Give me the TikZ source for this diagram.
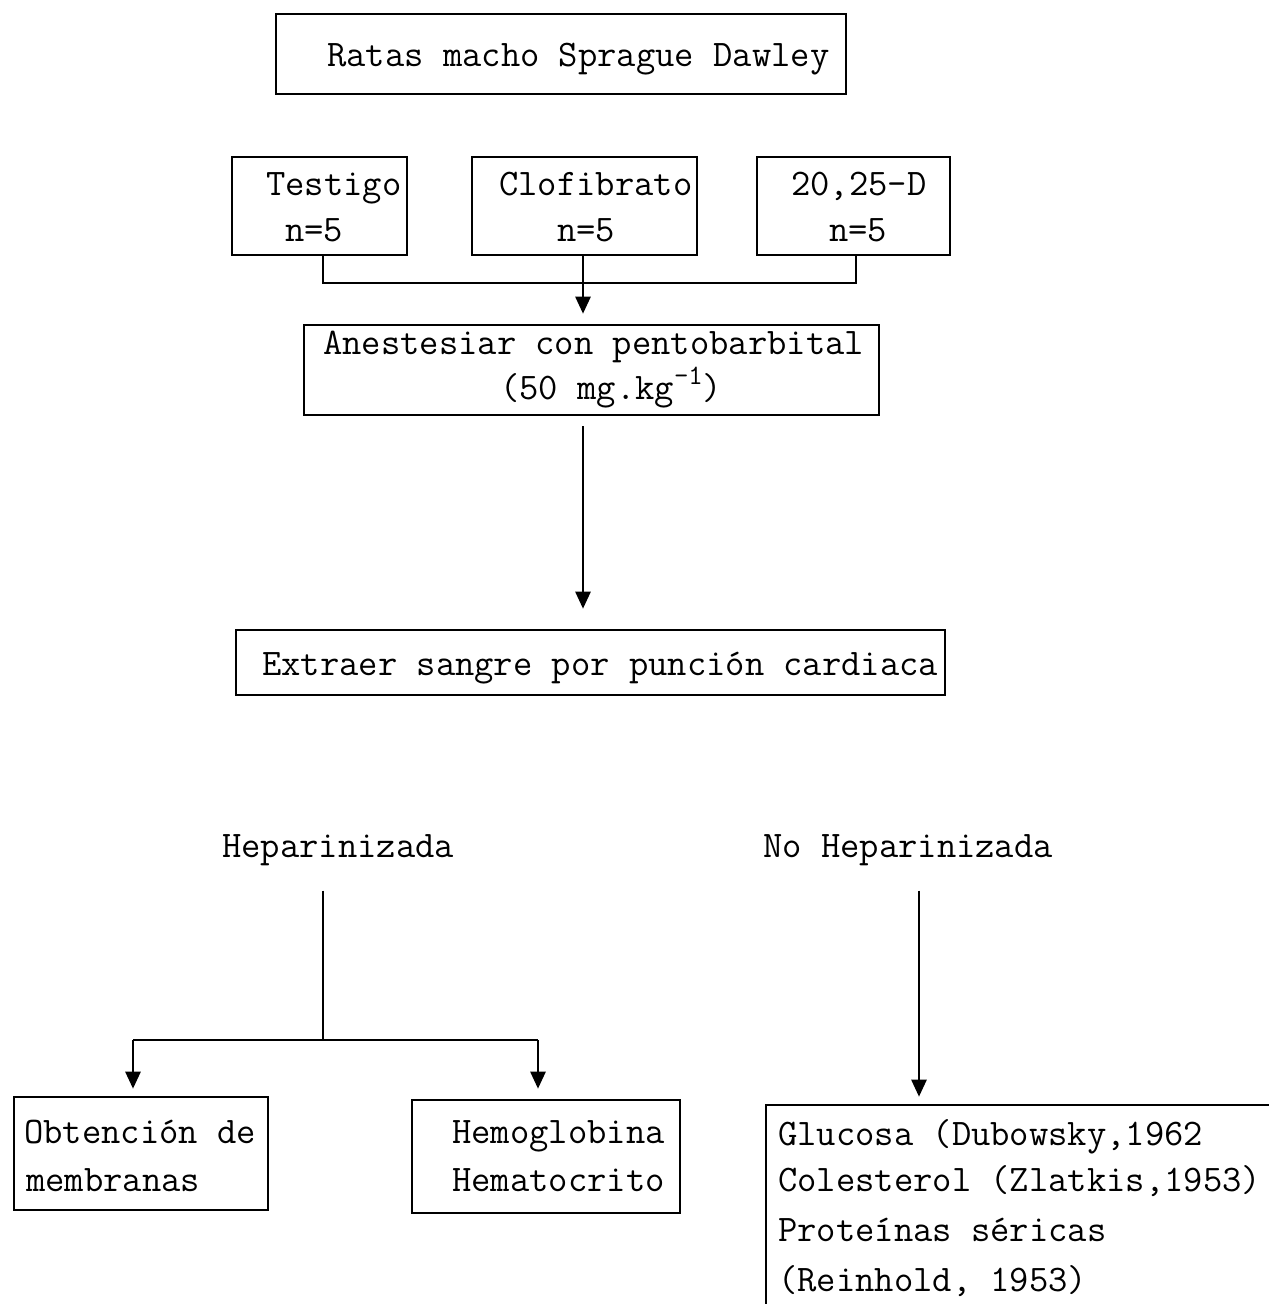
\documentclass[tikz,border=0pt]{standalone}
\usetikzlibrary{arrows.meta,calc}
\begin{document}
\begin{tikzpicture}[x=1pt,y=-1pt,
  box/.style={draw, line width=2.6pt, rectangle, inner sep=0pt},
  txt/.style={anchor=base west, inner sep=0pt, font=\ttfamily\fontsize{37.5}{40}\selectfont},
  arr/.style={-{Triangle[width=15pt,length=17pt]}, line width=2.6pt},
  conn/.style={line width=2.6pt}]
\useasboundingbox (0,0) rectangle (1269,1304);
% boxes
\node[box, minimum width=570pt, minimum height=80pt] (top) at (561,54) {};
\node[box, minimum width=175pt, minimum height=98pt] (testigo) at (319.5,206) {};
\node[box, minimum width=225pt, minimum height=98pt] (clof) at (584.5,206) {};
\node[box, minimum width=193pt, minimum height=98pt] (dd) at (853.5,206) {};
\node[box, minimum width=575pt, minimum height=90pt] (anest) at (591.5,370) {};
\node[box, minimum width=709pt, minimum height=65pt] (extr) at (590.5,662.5) {};
\node[box, minimum width=254pt, minimum height=113pt] (obt) at (141,1153.5) {};
\node[box, minimum width=268pt, minimum height=113pt] (hemo) at (546,1156.5) {};
\node[box, minimum width=534pt, minimum height=235pt] (fin) at (1033,1222.5) {};
% texts
\node[txt] (t1) at (327,66) {Ratas macho Sprague Dawley};
\node[txt] (t2) at (266,195) {Testigo};
\node[txt] (t3) at (285,241) {n=5};
\node[txt] (t4) at (499,195) {Clofibrato};
\node[txt] (t5) at (557,241) {n=5};
\node[txt] (t6) at (791,195) {20,25-D};
\node[txt] (t7) at (829,241) {n=5};
\node[txt] (t8) at (323,354) {Anestesiar con pentobarbital};
\node[txt] (t9) at (500,399) {(50 mg.kg\raisebox{15pt}{\fontsize{28}{28}\selectfont-1})};
\node[txt] (t10) at (262,675) {Extraer sangre por punción cardiaca};
\node[txt] (hep) at (222,857) {Heparinizada};
\node[txt] (nohep) at (763,857) {No Heparinizada};
\node[txt] (t11) at (24,1143) {Obtención de};
\node[txt] (t12) at (26,1191) {membranas};
\node[txt] (t13) at (452,1143) {Hemoglobina};
\node[txt] (t14) at (452,1191) {Hematocrito};
\node[txt] (t15) at (778,1145) {Glucosa (Dubowsky,1962};
\node[txt] (t16) at (778,1191) {Colesterol (Zlatkis,1953)};
\node[txt] (t17) at (778,1241) {Proteínas séricas};
\node[txt] (t18) at (778,1291) {(Reinhold, 1953)};
% connectors
\coordinate (bl) at (323,283);
\coordinate (br) at (856,283);
\coordinate (split) at (323,1040);
\coordinate (sl) at (133,1040);
\coordinate (sr) at (538,1040);
\draw[conn] (testigo.south -| bl) -- (bl) -- (br) -- (dd.south -| br);
\draw[arr] (clof.south -| 583,0) -- ($(anest.north -| 583,0)+(0,-10)$);
\draw[arr] ($(anest.south -| 583,0)+(0,10)$) -- ($(extr.north -| 583,0)+(0,-20)$);
\draw[conn] ($(hep.south -| split)+(0,25)$) -- (split);
\draw[conn] (sl) -- (sr);
\draw[arr] (sl) -- ($(obt.north -| sl)+(0,-7)$);
\draw[arr] (sr) -- ($(hemo.north -| sr)+(0,-10)$);
\draw[arr] ($(nohep.south -| 919,0)+(0,25)$) -- ($(fin.north -| 919,0)+(0,-7)$);
\end{tikzpicture}
\end{document}
